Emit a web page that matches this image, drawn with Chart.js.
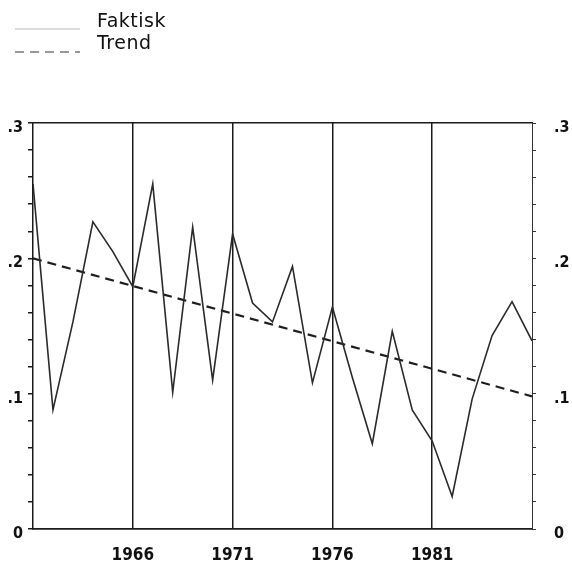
<!DOCTYPE html>
<html>
<head>
<meta charset="utf-8">
<script src="https://cdn.jsdelivr.net/npm/chart.js@4/dist/chart.umd.min.js"></script>
<style>
  html, body { margin: 0; padding: 0; background: #ffffff; }
  #wrap { width: 572px; height: 566px; }
</style>
</head>
<body>
<div id="wrap"><canvas id="c" width="572" height="566"></canvas></div>
<script>
// Annual observations, 1961-1986
const years = [1961, 1962, 1963, 1964, 1965, 1966, 1967, 1968, 1969, 1970,
               1971, 1972, 1973, 1974, 1975, 1976, 1977, 1978, 1979, 1980,
               1981, 1982, 1983, 1984, 1985, 1986];
const faktisk = [0.255, 0.088, 0.153, 0.227, 0.205, 0.179, 0.255, 0.101, 0.223, 0.110,
                 0.218, 0.167, 0.153, 0.194, 0.108, 0.164, 0.112, 0.063, 0.146, 0.088,
                 0.065, 0.024, 0.096, 0.143, 0.168, 0.139];

// Linear trend, start and end of the period
const trendYears = [1961, 1986];
const trendValues = [0.200, 0.098];

// Axis ticks
const yearTicks = [1966, 1971, 1976, 1981];
const yMin = 0, yMax = 0.3, yStep = 0.02;

const seriesNames = ['Faktisk', 'Trend'];

function pairs(xs, ys) { return xs.map((x, i) => ({ x: x, y: ys[i] })); }

function yLabel(v) {
  const t = v * 10;
  if (Math.abs(t - Math.round(t)) > 1e-6) return '';
  if (Math.round(t) === 0) return '0';
  return '.' + Math.round(t);
}

const tickFont = { family: '"DejaVu Sans Condensed", "DejaVu Sans", sans-serif', size: 16, weight: 'bold' };
const yearFont = { family: '"DejaVu Sans Condensed", "DejaVu Sans", sans-serif', size: 17, weight: 'bold' };

// Legend drawn as two stacked rows at the top left
const stackedLegend = {
  id: 'stackedLegend',
  afterDraw(chart) {
    const ctx = chart.ctx;
    const rows = [
      { ds: chart.data.datasets[0], lineY: 29, textY: 22, color: '#b8b8b8', width: 1 },
      { ds: chart.data.datasets[1], lineY: 52, textY: 44, color: '#777777', width: 1.5 }
    ];
    ctx.save();
    rows.forEach(r => {
      ctx.beginPath();
      ctx.setLineDash(r.ds.borderDash || []);
      ctx.strokeStyle = r.color;
      ctx.lineWidth = r.width;
      ctx.moveTo(15, r.lineY);
      ctx.lineTo(80, r.lineY);
      ctx.stroke();
      ctx.setLineDash([]);
      ctx.fillStyle = '#111111';
      ctx.font = '19px "DejaVu Sans", sans-serif';
      if ('letterSpacing' in ctx) ctx.letterSpacing = '0.5px';
      ctx.textBaseline = 'middle';
      ctx.textAlign = 'left';
      ctx.fillText(r.ds.label, 97, r.textY);
    });
    ctx.restore();
  }
};

new Chart(document.getElementById('c'), {
  type: 'line',
  data: {
    datasets: [
      {
        label: seriesNames[0],
        data: pairs(years, faktisk),
        borderColor: '#2b2b2b',
        borderWidth: 1.6,
        pointRadius: 0,
        tension: 0,
        fill: false
      },
      {
        label: seriesNames[1],
        data: pairs(trendYears, trendValues),
        borderColor: '#1e1e1e',
        borderWidth: 2.2,
        borderDash: [9, 6],
        pointRadius: 0,
        tension: 0,
        fill: false
      }
    ]
  },
  options: {
    responsive: false,
    animation: false,
    layout: { padding: { top: 123, left: 0, right: 0, bottom: 0 } },
    plugins: {
      legend: { display: false },
      tooltip: { enabled: false }
    },
    scales: {
      x: {
        type: 'linear',
        position: 'bottom',
        min: years[0],
        max: years[years.length - 1],
        afterBuildTicks(axis) { axis.ticks = yearTicks.map(v => ({ value: v })); },
        afterFit(axis) { axis.height = 37; },
        grid: { display: true, drawOnChartArea: true, drawTicks: false, color: '#1a1a1a', lineWidth: 1.5 },
        border: { display: true, color: '#1a1a1a', width: 1.8 },
        ticks: { color: '#111111', font: yearFont, padding: 16, maxRotation: 0, autoSkip: false,
                 callback: v => String(v) }
      },
      xTop: {
        type: 'linear',
        position: 'top',
        min: years[0],
        max: years[years.length - 1],
        afterFit(axis) { axis.height = 0; },
        grid: { display: false },
        border: { display: true, color: '#1a1a1a', width: 1.5 },
        ticks: { display: false }
      },
      y: {
        position: 'left',
        min: yMin,
        max: yMax,
        afterBuildTicks(axis) {
          const t = [];
          for (let i = 0; i <= Math.round((yMax - yMin) / yStep); i++) t.push({ value: yMin + i * yStep });
          axis.ticks = t;
        },
        afterFit(axis) { axis.width = 33; },
        grid: { display: true, drawOnChartArea: false, drawTicks: true, tickLength: 5, color: '#1a1a1a', lineWidth: 1.5 },
        border: { display: true, color: '#1a1a1a', width: 1.5 },
        ticks: { color: '#111111', font: tickFont, padding: 5, labelOffset: 5, autoSkip: false, callback: yLabel }
      },
      y2: {
        position: 'right',
        min: yMin,
        max: yMax,
        afterBuildTicks(axis) {
          const t = [];
          for (let i = 0; i <= Math.round((yMax - yMin) / yStep); i++) t.push({ value: yMin + i * yStep });
          axis.ticks = t;
        },
        afterFit(axis) { axis.width = 40; },
        grid: { display: true, drawOnChartArea: false, drawTicks: true, tickLength: 4, color: '#333333', lineWidth: 1 },
        border: { display: true, color: '#333333', width: 1 },
        ticks: { color: '#111111', font: tickFont, padding: 18, labelOffset: 5, autoSkip: false, callback: yLabel }
      }
    }
  },
  plugins: [stackedLegend]
});
</script>
</body>
</html>
